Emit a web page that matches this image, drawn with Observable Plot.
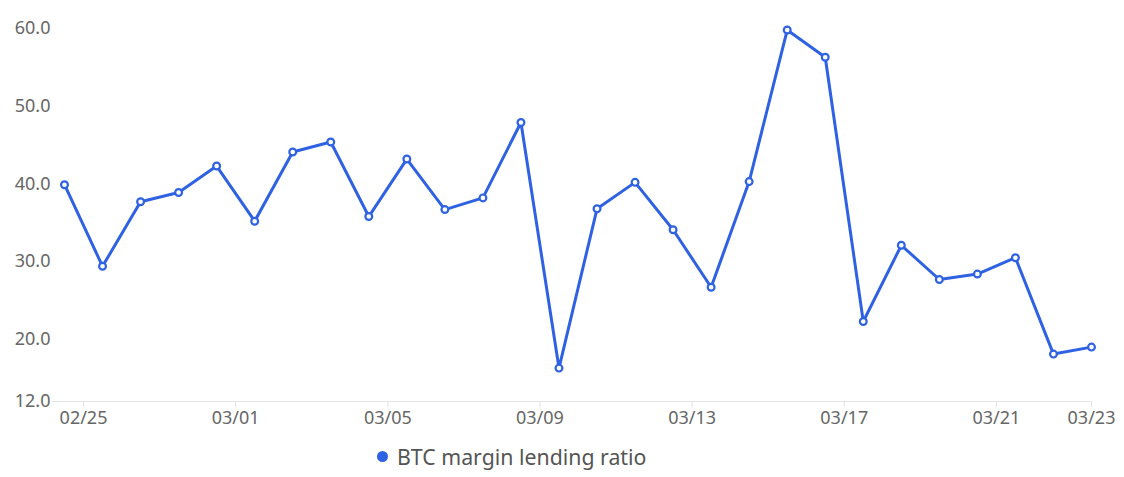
<!DOCTYPE html>
<html>
<head>
<meta charset="utf-8">
<script src="https://cdn.jsdelivr.net/npm/d3@7"></script>
<script src="https://cdn.jsdelivr.net/npm/@observablehq/plot@0.6"></script>
<style>
  html, body { margin: 0; padding: 0; background: #fff; }
  body { width: 1124px; height: 477px; overflow: hidden; font-family: "Noto Sans", "DejaVu Sans", sans-serif; }
  #legend { height: 32px; display: flex; align-items: center; padding-left: 377px; font-size: 21.3px; color: #555; }
  #legend .dot { width: 11px; height: 11px; border-radius: 50%; margin-right: 9px; }
</style>
</head>
<body>
<div id="chart"></div>
<div id="legend"></div>
<script>
const seriesName = "BTC margin lending ratio";
const dates = [
  "2025-02-24","2025-02-25","2025-02-26","2025-02-27","2025-02-28",
  "2025-03-01","2025-03-02","2025-03-03","2025-03-04","2025-03-05",
  "2025-03-06","2025-03-07","2025-03-08","2025-03-09","2025-03-10",
  "2025-03-11","2025-03-12","2025-03-13","2025-03-14","2025-03-15",
  "2025-03-16","2025-03-17","2025-03-18","2025-03-19","2025-03-20",
  "2025-03-21","2025-03-22","2025-03-23"
];
const values = [
  39.9, 29.4, 37.7, 38.9, 42.3,
  35.2, 44.1, 45.4, 35.8, 43.2,
  36.7, 38.2, 47.9, 16.3, 36.8,
  40.2, 34.1, 26.7, 40.3, 59.8,
  56.3, 22.3, 32.1, 27.7, 28.4,
  30.5, 18.1, 19.0
];
const xTickDays = ["2025-02-25","2025-03-01","2025-03-05","2025-03-09","2025-03-13","2025-03-17","2025-03-21"];
const yTicks = [12, 20, 30, 40, 50, 60];
const yDomain = [12, 60];

const color = "#2f62e3";
const data = dates.map((d, i) => ({date: new Date(d + "T12:00:00Z"), value: values[i]}));
const xTicks = xTickDays.map(d => new Date(d + "T00:00:00Z")).concat([data[data.length - 1].date]);
const fmt = d3.utcFormat("%m/%d");

const chart = Plot.plot({
  width: 1124,
  height: 440,
  marginTop: 28,
  marginBottom: 39,
  marginLeft: 52,
  marginRight: 33,
  style: {fontFamily: "'Noto Sans', 'DejaVu Sans', sans-serif", background: "#fff"},
  x: {type: "utc", domain: d3.extent(data, d => d.date), insetLeft: 12},
  y: {domain: yDomain},
  marks: [
    Plot.ruleY([12], {stroke: "#e3e3e3", strokeWidth: 1}),
    Plot.axisX({ticks: xTicks, tickFormat: fmt, tickSize: 6, tickPadding: 4, stroke: "#e3e3e3", fill: "#666", fontSize: 18, label: null}),
    Plot.axisY({ticks: yTicks, tickFormat: d3.format(".1f"), tickSize: 0, tickPadding: 2, fill: "#666", fontSize: 18, label: null}),
    Plot.line(data, {x: "date", y: "value", stroke: color, strokeWidth: 3, strokeLinejoin: "round"}),
    Plot.dot(data, {x: "date", y: "value", r: 3.4, fill: "#fff", stroke: color, strokeWidth: 2.2})
  ]
});
document.getElementById("chart").appendChild(chart);

const legend = document.getElementById("legend");
const dot = document.createElement("span");
dot.className = "dot";
dot.style.background = color;
const label = document.createElement("span");
label.textContent = seriesName;
legend.appendChild(dot);
legend.appendChild(label);
</script>
</body>
</html>
